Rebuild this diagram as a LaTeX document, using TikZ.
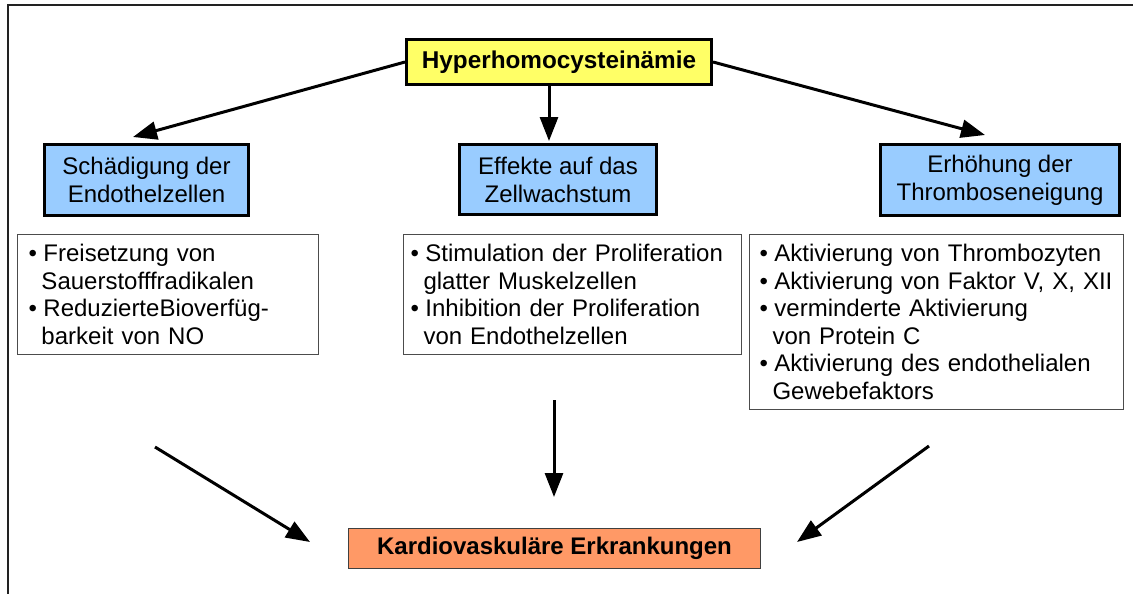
\documentclass[tikz,border=0pt]{standalone}
\usepackage{fontspec}
\setmainfont{Liberation Sans}
\usetikzlibrary{arrows.meta}
\definecolor{hyyellow}{HTML}{FFFF66}
\definecolor{hyblue}{HTML}{99CCFF}
\definecolor{hyorange}{HTML}{FF9966}
\definecolor{frameclr}{HTML}{222222}
\newcommand\bul{\makebox[15pt][l]{•}}
\newcommand\cont{\hspace*{13pt}}
\tikzset{
  mainbox/.style={draw=black, line width=3pt, fill=hyyellow, anchor=north west, inner sep=0pt,
    font=\fontsize{24.3}{28}\selectfont\bfseries},
  catbox/.style={draw=black, line width=3pt, fill=hyblue, anchor=north west, inner sep=0pt,
    align=center, font=\fontsize{24}{28}\selectfont},
  listbox/.style={draw=black!70, line width=1pt, fill=white, anchor=north west, inner ysep=0pt,
    align=left, font=\fontsize{24}{27.5}\selectfont},
  endbox/.style={draw=black!75, line width=1pt, fill=hyorange, anchor=north west, inner sep=0pt,
    font=\fontsize{24}{28}\selectfont\bfseries},
  conn/.style={line width=3pt, -{Triangle[length=24pt,width=18pt]}},
}
\begin{document}
\begin{tikzpicture}[x=1pt,y=-1pt]
\useasboundingbox (0,0) rectangle (1133,594);
\fill[white] (0,0) rectangle (1133,594);
% frame
\draw[frameclr, line width=2pt] (8,594) -- (8,5) -- (1133,5);

% top node
\node[mainbox, minimum width=305pt, minimum height=45pt] (top) at (405,38) {Hyperhomocysteinämie};

% category boxes
\node[catbox, minimum width=204pt, minimum height=71pt] (c1) at (43,143) {Schädigung der\\Endothelzellen};
\node[catbox, minimum width=197pt, minimum height=70pt] (c2) at (458,143) {Effekte auf das\\Zellwachstum};
\node[catbox, minimum width=239pt, minimum height=71pt] (c3) at (879,143) {Erhöhung der\\Thromboseneigung};

% list boxes
\node[listbox, inner xsep=11pt, text width=279pt, minimum height=120pt] (l1) at (17,234)
  {\bul Freisetzung von\\\cont Sauerstofffradikalen\\\bul ReduzierteBioverfüg-\\\cont barkeit von NO};
\node[listbox, inner xsep=7pt, text width=324pt, minimum height=120pt] (l2) at (403,234)
  {\bul Stimulation der Proliferation\\\cont glatter Muskelzellen\\\bul Inhibition der Proliferation\\\cont von Endothelzellen};
\node[listbox, inner xsep=10pt, text width=354pt, minimum height=175pt] (l3) at (749,234)
  {\bul Aktivierung von Thrombozyten\\\bul Aktivierung\ von\ Faktor\ V,\ X,\ XII\\\bul verminderte Aktivierung\\\cont von Protein C\\\bul Aktivierung des endothelialen\\\cont Gewebefaktors};

% end box
\node[endbox, minimum width=412pt, minimum height=40pt] (end) at (348,528) {Kardiovaskuläre Erkrankungen};

% connector end points
\coordinate (t1) at (133,137);
\coordinate (s2) at (549,83);
\coordinate (t2) at (549,141);
\coordinate (t3) at (985,135);
\coordinate (b1s) at (155,447);
\coordinate (b1e) at (310,542);
\coordinate (b2s) at (554,400);
\coordinate (b2e) at (554,497);
\coordinate (b3s) at (929,446);
\coordinate (b3e) at (797,542);

\draw[conn] (top.west) -- (t1);
\draw[conn] (s2) -- (t2);
\draw[conn] (top.east) -- (t3);
\draw[conn] (b1s) -- (b1e);
\draw[conn] (b2s) -- (b2e);
\draw[conn] (b3s) -- (b3e);
\end{tikzpicture}
\end{document}
